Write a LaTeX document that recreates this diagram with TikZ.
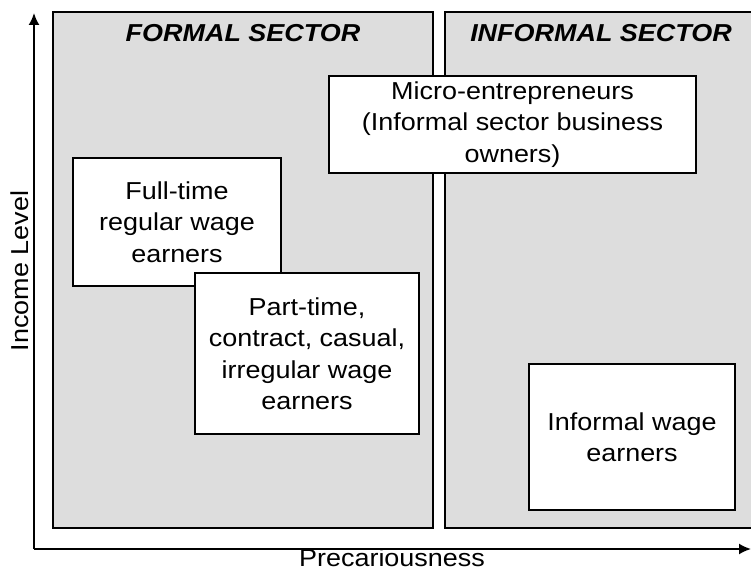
\documentclass[tikz,border=0pt]{standalone}
\usepackage{fontspec}
\setmainfont{Liberation Sans}[FakeStretch=1.1]
\usetikzlibrary{positioning, arrows.meta}
\definecolor{sectorgray}{RGB}{221,221,221}
\tikzset{
	sector/.style={draw, line width=1.5pt, fill=sectorgray, inner sep=0pt},
	group/.style={draw, line width=1.5pt, fill=white, align=center, inner sep=0pt, font=\fontsize{24.5}{31.5}\selectfont},
	title/.style={anchor=base, font=\fontsize{24.5}{30}\selectfont\bfseries\itshape},
	axislabel/.style={anchor=base, font=\fontsize{24.5}{30}\selectfont},
	axis/.style={line width=1.8pt, -{Latex[length=12pt, width=11pt]}}
}
\begin{document}
\begin{tikzpicture}[x=1pt, y=-1pt]
\clip (0,0) rectangle (751,569);
\node[sector, minimum width=380pt, minimum height=516pt] (formal) at (243,270) {};
\node[sector, minimum width=312pt, minimum height=516pt] (informal) at (601,270) {};
\node[title] (formaltitle) at (243,42) {FORMAL SECTOR};
\node[title] (informaltitle) at (601,42) {INFORMAL SECTOR};
\node[group, minimum width=367pt, minimum height=97pt] (micro) at (512.5,124.5) {Micro-entrepreneurs\\(Informal sector business\\owners)};
\node[group, minimum width=208pt, minimum height=128pt] (fulltime) at (177,222) {Full-time\\regular wage\\earners};
\node[group, minimum width=224pt, minimum height=161pt] (parttime) at (307,353.5) {Part-time,\\contract, casual,\\irregular wage\\earners};
\node[group, minimum width=206pt, minimum height=146pt] (infwage) at (632,437) {Informal wage\\earners};
\coordinate (origin) at (34,549);
\coordinate (ytip) at (34,13);
\coordinate (xtip) at (751,549);
\draw[axis] (origin) -- (ytip);
\draw[axis] (origin) -- (xtip);
\node[axislabel, rotate=90] (income) at (28,271) {Income Level};
\node[axislabel] (precar) at (392,566) {Precariousness};
\end{tikzpicture}
\end{document}
